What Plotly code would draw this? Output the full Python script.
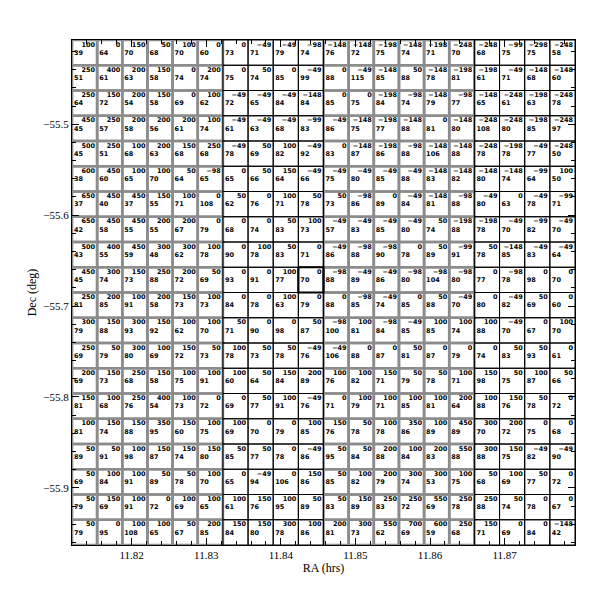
import plotly.graph_objects as go

# Box grid: 20 x 20 boxes, rows listed north -> south, columns west -> east
RA_LEFT = 11.812      # hrs, west edge of column 1
RA_STEP = 0.003372    # hrs per box
DEC_TOP = -55.4073    # deg, north edge of row 1
DEC_STEP = 0.027778   # deg per box

# upper number in each box
top_vals = [
    [100, 0, 150, 50, 100, 0, 0, -49, -49, -98, -148, -148, -198, -148, -198, -248, -248, -99, -298, -248],
    [250, 400, 200, 150, 0, 200, 0, 50, 0, -49, 0, -49, -148, 50, -148, -198, -198, -49, -148, -148],
    [250, 150, 200, 150, 0, 100, -49, -49, -49, -148, 0, 0, -198, -98, -148, -98, -148, -248, -198, -248],
    [450, 250, 200, 200, 200, 100, -49, -49, -49, -99, -49, -148, -198, -148, 0, -148, -248, -248, -198, -248],
    [500, 250, 100, 200, 150, 250, -49, 50, 100, -49, 0, -148, -198, -98, -148, -148, -248, -198, -49, -248],
    [600, 450, 100, 100, 50, -98, 0, 50, 150, -49, -49, -49, -49, -49, -148, -148, -148, -148, -99, 100],
    [650, 450, 450, 150, 100, 0, 50, 0, 100, 50, 50, -98, 0, -49, -148, -98, -49, 0, -49, -99],
    [650, 450, 450, 200, 200, 0, 0, 0, 50, 100, -49, -49, -49, -49, 50, -198, -198, -49, -99, -49],
    [500, 400, 450, 300, 300, 100, 0, 100, 50, 0, -49, -98, -98, 0, 50, -99, 50, -148, -49, -49],
    [450, 300, 150, 250, 200, 50, 0, 0, 100, 0, -98, -49, -49, -98, -98, -98, 0, -98, 0, 0],
    [250, 200, 100, 200, 150, 100, 0, 0, 100, 0, 0, -98, -49, 0, 50, -49, 0, -49, 50, 0],
    [300, 150, 300, 150, 100, 100, 50, 0, 0, 50, -98, 100, -98, -49, 100, 100, 100, -49, 0, 100],
    [250, 50, 300, 100, 150, 50, 100, 50, 50, -49, -49, 0, 0, 50, 0, 0, 0, 50, 50, 0],
    [200, 150, 250, 150, 100, 100, 100, 50, 150, 200, 100, 100, 150, 50, 50, 100, 150, 50, 100, 50],
    [150, 100, 250, 400, 100, 0, 0, 50, 100, -49, 0, 100, 100, 100, 100, 200, 100, 150, 50, 0],
    [100, 150, 150, 350, 150, 100, 100, 0, 0, 100, 150, 50, 100, 350, 100, 450, 300, 200, 0, 0],
    [50, 50, 100, 150, 150, 150, 50, 50, 0, -49, 50, 50, 200, 100, 200, 550, 300, 150, -49, -49],
    [50, 100, 100, 50, 50, 100, 0, -49, 0, 150, 50, 100, 200, 300, 300, 100, 50, 100, 50, 0],
    [50, 150, 100, 0, 100, 100, 100, 150, 100, 50, 50, 150, 250, 250, 550, 250, 250, 50, 0, 0],
    [50, 0, 100, 100, 50, 200, 150, 150, 300, 100, 200, 300, 550, 700, 600, 250, 150, 0, 0, -148],
]

# lower number in each box
low_vals = [
    [39, 64, 70, 68, 70, 60, 73, 71, 79, 74, 76, 72, 75, 74, 71, 70, 68, 75, 75, 58],
    [51, 61, 63, 58, 74, 74, 75, 74, 85, 99, 88, 115, 85, 88, 78, 81, 61, 71, 68, 60],
    [64, 72, 54, 58, 69, 62, 72, 65, 84, 84, 85, 75, 84, 74, 79, 77, 65, 61, 63, 78],
    [45, 57, 58, 56, 61, 74, 61, 63, 68, 83, 86, 75, 77, 88, 81, 80, 108, 80, 85, 97],
    [45, 51, 68, 63, 68, 68, 78, 69, 82, 92, 83, 87, 86, 88, 106, 88, 78, 78, 77, 50],
    [38, 60, 65, 70, 64, 65, 65, 66, 64, 66, 75, 80, 85, 88, 83, 82, 80, 74, 64, 50],
    [37, 40, 37, 55, 71, 108, 62, 76, 71, 78, 73, 86, 89, 84, 81, 88, 80, 63, 78, 71],
    [42, 58, 55, 55, 67, 79, 68, 74, 83, 73, 57, 83, 85, 80, 74, 88, 78, 70, 82, 70],
    [43, 55, 59, 48, 62, 78, 90, 78, 83, 71, 86, 88, 90, 78, 89, 91, 78, 85, 83, 64],
    [45, 74, 73, 88, 72, 69, 93, 91, 77, 70, 88, 89, 86, 80, 104, 80, 77, 78, 98, 70],
    [81, 85, 91, 58, 73, 73, 84, 78, 63, 79, 88, 85, 74, 85, 88, 70, 80, 82, 69, 60],
    [79, 88, 93, 92, 62, 70, 71, 90, 98, 87, 100, 81, 84, 85, 85, 74, 88, 70, 67, 70],
    [69, 79, 80, 69, 72, 73, 78, 73, 78, 76, 106, 88, 87, 81, 87, 79, 74, 83, 93, 61],
    [69, 73, 68, 58, 75, 91, 60, 64, 84, 89, 76, 82, 71, 79, 78, 71, 98, 75, 87, 66],
    [81, 68, 76, 54, 73, 72, 69, 77, 91, 76, 71, 79, 71, 85, 81, 64, 88, 76, 78, 72],
    [81, 74, 88, 95, 60, 75, 69, 70, 79, 85, 76, 78, 78, 86, 89, 89, 70, 72, 75, 68],
    [89, 91, 98, 87, 74, 80, 85, 77, 78, 86, 95, 84, 88, 84, 83, 88, 88, 75, 82, 90],
    [69, 84, 91, 89, 78, 70, 65, 94, 106, 86, 85, 82, 79, 74, 53, 75, 68, 69, 77, 72],
    [79, 69, 91, 72, 69, 65, 61, 76, 95, 89, 83, 89, 83, 72, 69, 78, 88, 74, 78, 67],
    [79, 95, 108, 65, 67, 85, 84, 80, 78, 86, 81, 73, 62, 69, 59, 68, 71, 69, 84, 42],
]

# columns whose boxes are outlined in black (the rest are grey)
black_cols = [7, 8, 9, 10, 17, 18, 19, 20]
# highlighted box (row, col)
marked_box = (10, 10)

n_rows = len(top_vals)
n_cols = len(top_vals[0])


def box_edges(r, c):
    x0 = RA_LEFT + (c - 1) * RA_STEP
    y0 = DEC_TOP - (r - 1) * DEC_STEP
    return x0, x0 + RA_STEP, y0 - DEC_STEP, y0


def outline(cells):
    xs, ys = [], []
    for r, c in cells:
        x0, x1, y0, y1 = box_edges(r, c)
        xs += [x0, x1, x1, x0, x0, None]
        ys += [y1, y1, y0, y0, y1, None]
    return xs, ys


def fmt(v):
    return str(v).replace("-", "\u2212")


grey_cells = [(r, c) for r in range(1, n_rows + 1) for c in range(1, n_cols + 1)
              if c not in black_cols]
black_cells = [(r, c) for r in range(1, n_rows + 1) for c in range(1, n_cols + 1)
               if c in black_cols]

fig = go.Figure()

gx, gy = outline(grey_cells)
fig.add_trace(go.Scatter(x=gx, y=gy, mode="lines", hoverinfo="skip",
                         line=dict(color="#8c8c8c", width=2.6)))
bx, by = outline(black_cells)
fig.add_trace(go.Scatter(x=bx, y=by, mode="lines", hoverinfo="skip",
                         line=dict(color="black", width=1)))
mx, my = outline([marked_box])
fig.add_trace(go.Scatter(x=mx, y=my, mode="lines", hoverinfo="skip",
                         line=dict(color="black", width=2.2)))

# ── numbers in the boxes ─────────────────────────────────────────────
tx, ty, tt = [], [], []
lx, ly, lt = [], [], []
for r in range(1, n_rows + 1):
    for c in range(1, n_cols + 1):
        x0, x1, y0, y1 = box_edges(r, c)
        tx.append(x1 - 0.08 * RA_STEP)
        ty.append(y1 - 0.2 * DEC_STEP)
        tt.append(fmt(top_vals[r - 1][c - 1]))
        lx.append(x0 + 0.08 * RA_STEP)
        ly.append(y1 - 0.52 * DEC_STEP)
        lt.append(fmt(low_vals[r - 1][c - 1]))

cell_font = dict(family="DejaVu Sans", size=6.5, color="black", weight="bold")
fig.add_trace(go.Scatter(x=tx, y=ty, text=tt, mode="text",
                         textposition="middle left", textfont=cell_font,
                         hoverinfo="skip"))
fig.add_trace(go.Scatter(x=lx, y=ly, text=lt, mode="text",
                         textposition="middle right", textfont=cell_font,
                         hoverinfo="skip"))

ra_right = RA_LEFT + n_cols * RA_STEP
dec_bottom = DEC_TOP - n_rows * DEC_STEP

axis_common = dict(
    showgrid=False, zeroline=False, showline=True, linecolor="black",
    linewidth=1, mirror="allticks", ticks="inside", tickcolor="black",
    ticklen=7, tickwidth=1,
    tickfont=dict(family="Liberation Serif", size=11, color="black"),
)

fig.update_xaxes(
    range=[RA_LEFT, ra_right], dtick=0.01, tick0=11.82, tickformat=".2f",
    minor=dict(dtick=0.002, ticks="inside", ticklen=4, tickcolor="black"),
    title=dict(text="RA (hrs)", standoff=0,
               font=dict(family="Liberation Serif", size=12, color="black")),
    **axis_common,
)
fig.update_yaxes(
    range=[dec_bottom, DEC_TOP], dtick=0.1, tick0=-55.5, tickformat=".1f",
    minor=dict(dtick=0.02, ticks="inside", ticklen=4, tickcolor="black"),
    title=dict(text="Dec (deg)", standoff=4,
               font=dict(family="Liberation Serif", size=12, color="black")),
    **axis_common,
)

fig.update_layout(
    width=599, height=599,
    margin=dict(l=64, r=32, t=32, b=62),
    showlegend=False,
    plot_bgcolor="white",
    paper_bgcolor="white",
)

fig.write_html("out.html")
